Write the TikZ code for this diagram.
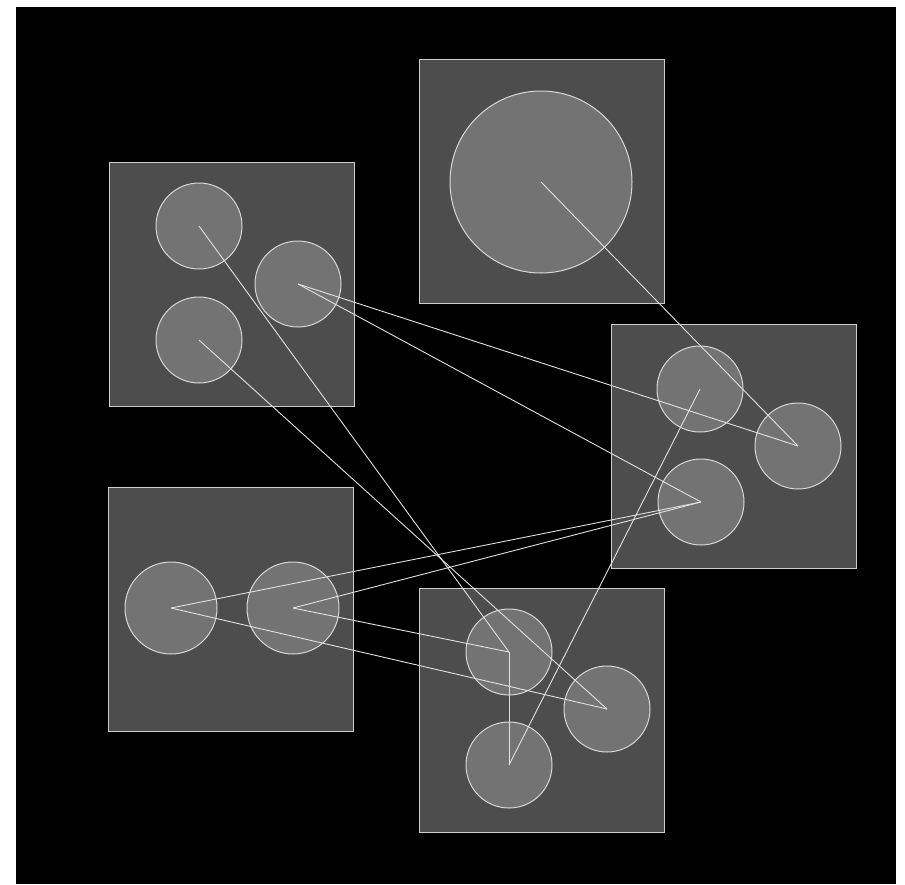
\documentclass[tikz,border=0pt]{standalone}
\usepackage{tikz}
\usetikzlibrary{positioning}
\definecolor{panelfill}{RGB}{77,77,77}
\definecolor{panelline}{RGB}{205,205,205}
\definecolor{discfill}{RGB}{115,115,115}
\definecolor{discline}{RGB}{215,215,215}
\definecolor{linkcol}{RGB}{225,225,225}
\tikzset{
  panel/.style={draw=panelline, fill=panelfill, minimum width=245pt, minimum height=244pt,
    inner sep=0pt, outer sep=0pt, line width=1pt},
  disc/.style={circle, draw=discline, fill=discfill, minimum size=86pt,
    inner sep=0pt, outer sep=0pt, line width=1pt},
  bigdisc/.style={disc, minimum size=182pt},
  link/.style={draw=linkcol, line width=0.9pt}
}
\begin{document}
\begin{tikzpicture}[x=1pt,y=-1pt]
  \useasboundingbox (0,0) rectangle (905,884);
  \fill[black] (16,7) rectangle (896,884);
  % panels
  \node[panel] (pa) at (231.5,284) {};
  \node[panel] (pb) at (541.5,181) {};
  \node[panel] (pc) at (733.5,446) {};
  \node[panel] (pd) at (231,609) {};
  \node[panel] (pe) at (541.5,710) {};
  % discs
  \node[disc] (a1) at (199,226) {};
  \node[disc] (a2) at (298,284) {};
  \node[disc] (a3) at (199,340) {};
  \node[bigdisc] (b1) at (541,182) {};
  \node[disc] (c1) at (700,389) {};
  \node[disc] (c2) at (798,446) {};
  \node[disc] (c3) at (701,502) {};
  \node[disc, minimum size=92pt] (d1) at (171,608) {};
  \node[disc, minimum size=92pt] (d2) at (293,608) {};
  \node[disc] (e1) at (509,652) {};
  \node[disc] (e2) at (607,709) {};
  \node[disc] (e3) at (509,765) {};
  % links
  \draw[link] (a1.center) -- (e1.center);
  \draw[link] (a3.center) -- (e2.center);
  \draw[link] (a2.center) -- (c2.center);
  \draw[link] (a2.center) -- (c3.center);
  \draw[link] (b1.center) -- (c2.center);
  \draw[link] (c3.center) -- (d1.center);
  \draw[link] (c3.center) -- (d2.center);
  \draw[link] (d1.center) -- (e2.center);
  \draw[link] (d2.center) -- (e1.center);
  \draw[link] (e1.center) -- (e3.center);
  \draw[link] (e3.center) -- (c1.center);
\end{tikzpicture}
\end{document}
